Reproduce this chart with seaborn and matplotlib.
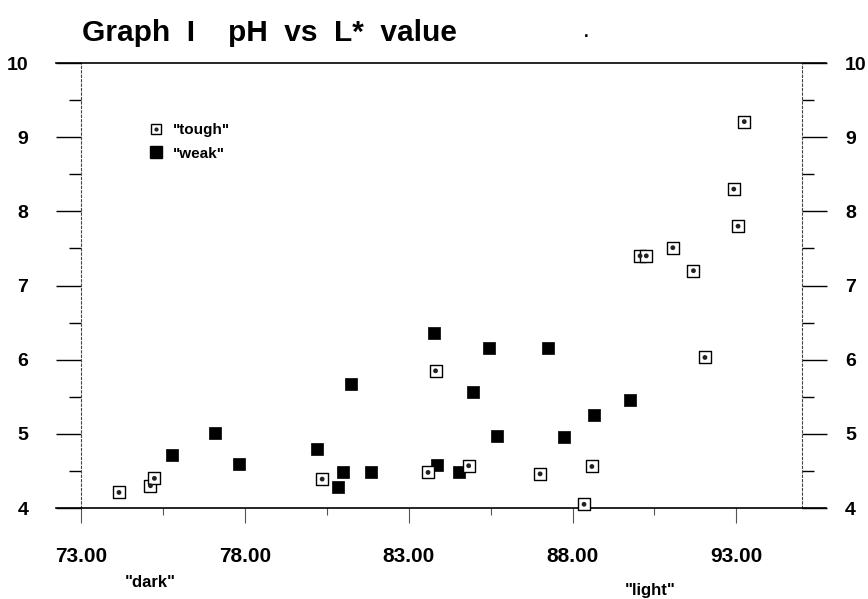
import numpy as np
import pandas as pd
import matplotlib
matplotlib.use("Agg")
import matplotlib.pyplot as plt
from matplotlib.ticker import MultipleLocator, FixedLocator
from matplotlib.legend_handler import HandlerTuple
from matplotlib.lines import Line2D
import seaborn as sns

# --- datos ---
tough_l = [74.16, 75.12, 75.24, 80.36, 83.59, 83.82, 84.83, 87.01, 88.35, 88.59,
           90.06, 90.25, 91.06, 91.69, 92.04, 92.92, 93.05, 93.24]
tough_ph = [4.21, 4.30, 4.40, 4.39, 4.48, 5.85, 4.57, 4.46, 4.05, 4.56,
            7.40, 7.40, 7.51, 7.20, 6.03, 8.30, 7.80, 9.21]

weak_l = [75.79, 77.10, 77.82, 80.20, 80.83, 81.00, 81.25, 81.84, 83.76, 83.87,
          84.53, 84.96, 85.45, 85.70, 87.24, 87.73, 88.65, 89.75]
weak_ph = [4.71, 5.01, 4.59, 4.80, 4.29, 4.48, 5.67, 4.48, 6.36, 4.58,
           4.48, 5.57, 6.16, 4.97, 6.16, 4.96, 5.25, 5.46]

x_ticks = [73, 78, 83, 88, 93]
x_labels = ["73.00", "78.00", "83.00", "88.00", "93.00"]
y_ticks = [4, 5, 6, 7, 8, 9, 10]

tough = pd.DataFrame({"L": tough_l, "pH": tough_ph})
weak = pd.DataFrame({"L": weak_l, "pH": weak_ph})

sns.set_style("white")
plt.rcParams["font.family"] = ["Liberation Sans", "DejaVu Sans"]
plt.rcParams["font.weight"] = "bold"
plt.rcParams["text.color"] = "black"
plt.rcParams["xtick.color"] = "black"
plt.rcParams["ytick.color"] = "black"

fig = plt.figure(figsize=(8.68, 5.99), dpi=100)
ax = fig.add_axes([0.0933, 0.1519, 0.8306, 0.7429])

# "weak": cuadrados negros
sns.scatterplot(data=weak, x="L", y="pH", marker="s", s=80, color="black",
                edgecolor="black", linewidth=0.5, ax=ax, zorder=3, clip_on=False)
# "tough": cuadrado abierto con punto
sns.scatterplot(data=tough, x="L", y="pH", marker="s", s=70, color="white",
                edgecolor="black", linewidth=1.0, ax=ax, zorder=4, clip_on=False)
sns.scatterplot(data=tough, x="L", y="pH", marker="o", s=12, color="#222222",
                edgecolor="none", ax=ax, zorder=5, clip_on=False)

ax.set_xlim(73, 95)
ax.set_ylim(4, 10)
ax.set_xlabel("")
ax.set_ylabel("")

# etiquetas del eje derecho (más cerca del eje) en un eje gemelo
ax2 = ax.twinx()
ax2.set_ylim(4, 10)
ax2.set_yticks(y_ticks)
ax2.set_yticklabels([str(v) for v in y_ticks], fontweight="bold")
ax2.tick_params(axis="y", which="both", length=0, pad=31, labelsize=14)
for sp in ax2.spines.values():
    sp.set_visible(False)

# ejes: izquierda/derecha punteados, arriba/abajo sólidos y más largos
for side in ["left", "right"]:
    ax.spines[side].set_visible(True)
    ax.spines[side].set_linestyle((0, (2, 2)))
    ax.spines[side].set_linewidth(0.8)
    ax.spines[side].set_color("#444444")
for side in ["top", "bottom"]:
    ax.spines[side].set_linewidth(1.2)
    ax.spines[side].set_color("black")
    ax.spines[side].set_bounds(72.24, 95.73)

ax.set_xticks(x_ticks)
ax.set_xticklabels(x_labels, fontweight="bold")
ax.xaxis.set_minor_locator(FixedLocator([75.5, 80.5, 85.5, 90.5]))
ax.tick_params(axis="x", which="major", direction="out", length=11, width=0.8,
               color="#555555", pad=17, labelsize=15, bottom=True, top=False)
ax.tick_params(axis="x", which="minor", direction="out", length=5, width=0.8,
               color="#555555", bottom=True, top=False)

ax.set_yticks(y_ticks)
ax.set_yticklabels([str(v) for v in y_ticks], fontweight="bold")
ax.yaxis.set_minor_locator(MultipleLocator(0.5))
ax.tick_params(axis="y", which="major", direction="out", length=18, width=1.0,
               labelsize=14, pad=20, left=True, right=True,
               labelleft=True, labelright=False)
ax.tick_params(axis="y", which="minor", direction="out", length=8.5, width=1.0,
               left=True, right=True)

# leyenda
h_box = Line2D([], [], marker="s", linestyle="none", markersize=7,
               markerfacecolor="white", markeredgecolor="black", markeredgewidth=1.0)
h_dot = Line2D([], [], marker="o", linestyle="none", markersize=3,
               markerfacecolor="#222222", markeredgecolor="none")
h_weak = Line2D([], [], marker="s", linestyle="none", markersize=8,
                markerfacecolor="black", markeredgecolor="black")
ax.legend([(h_box, h_dot), h_weak], ['"tough"', '"weak"'],
          handler_map={tuple: HandlerTuple(ndivide=1, pad=0)},
          loc="upper left", bbox_to_anchor=(0.074, 0.895), frameon=False,
          handlelength=1.0, handletextpad=0.6, labelspacing=0.6,
          prop={"size": 11, "weight": "bold"})

# textos
fig.text(0.0945, 0.945, "Graph  I    pH  vs  L*  value", fontsize=21.5,
         fontweight="bold", ha="left", va="center")
fig.text(0.675, 0.945, ".", fontsize=12, fontweight="bold", ha="center", va="center")
fig.text(0.1728, 0.028, '"dark"', fontsize=12, fontweight="bold", ha="center", va="center")
fig.text(0.7488, 0.015, '"light"', fontsize=12, fontweight="bold", ha="center", va="center")

fig.savefig("out.png", dpi=100, facecolor="white")
